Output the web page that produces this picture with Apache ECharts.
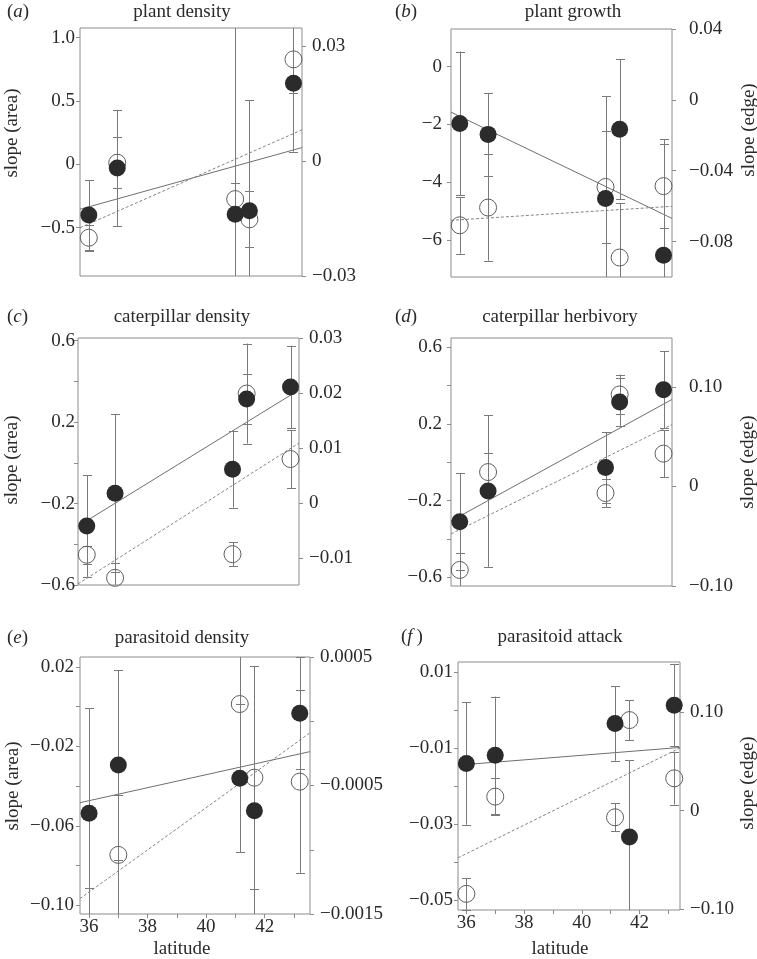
<!DOCTYPE html>
<html><head><meta charset="utf-8">
<script src="https://cdn.jsdelivr.net/npm/echarts@6/dist/echarts.min.js"></script>
<style>html,body{margin:0;padding:0;background:#fff}#c{width:757px;height:959px}</style>
</head><body><div id="c"></div>
<script>
// shared x values
const latitude = [36.0, 37.0, 41.15, 41.65, 43.2];
const xTicks = [36, 37, 38, 39, 40, 41, 42, 43];
const xLabels = ['36', '38', '40', '42'];

// (a) plant density
const aArea = [-0.40, -0.03, -0.395, -0.366, 0.639];
const aAreaErr = [0.276, 0.46, 1.6, 0.874, 0.54];
const aEdge = [-0.020, -0.0004, -0.0099, -0.0152, 0.0266];
const aEdgeErr = [0.0034, 0.0066, 0.0041, 0.0073, 0.0089];
const aAreaFit = [-0.355, 0.132];
const aEdgeFit = [-0.0174, 0.0082];
const aLeftTicks = [1.0, 0.5, 0, -0.5];
const aLeftLabels = ['1.0', '0.5', '0', '\u22120.5'];
const aRightTicks = [0.03, 0, -0.03];
const aRightLabels = ['0.03', '0', '\u22120.03'];

// (b) plant growth
const bArea = [-1.97, -2.35, -4.57, -2.17, -6.54];
const bAreaErr = [2.49, 1.44, 3.55, 2.43, 4.03];
const bEdge = [-0.0708, -0.0608, -0.0492, -0.089, -0.0487];
const bEdgeErr = [0.016, 0.030, 0.0314, 0.0308, 0.0235];
const bAreaFit = [-1.58, -5.26];
const bEdgeFit = [-0.068, -0.0601];
const bLeftTicks = [0, -2, -4, -6];
const bLeftLabels = ['0', '\u22122', '\u22124', '\u22126'];
const bRightTicks = [0.04, 0, -0.04, -0.08];
const bRightLabels = ['0.04', '0', '\u22120.04', '\u22120.08'];

// (c) caterpillar density
const cArea = [-0.31, -0.149, -0.031, 0.313, 0.372];
const cAreaErr = [0.25, 0.389, 0.189, 0.123, 0.203];
const cEdge = [-0.0094, -0.0136, -0.0093, 0.0199, 0.0080];
const cEdgeErr = [0.0016, 0.0027, 0.0022, 0.0091, 0.0053];
const cAreaFit = [-0.311, 0.358];
const cEdgeFit = [-0.0147, 0.0109];
const cLeftTicks = [0.6, 0.4, 0.2, 0, -0.2, -0.4, -0.6];
const cLeftLabels = ['0.6', '0.2', '\u22120.2', '\u22120.6'];
const cRightTicks = [0.03, 0.02, 0.01, 0, -0.01];
const cRightLabels = ['0.03', '0.02', '0.01', '0', '\u22120.01'];

// (d) caterpillar herbivory
const dArea = [-0.31, -0.15, -0.028, 0.313, 0.377];
const dAreaErr = [0.252, 0.395, 0.184, 0.124, 0.2];
const dEdge = [-0.0839, 0.0144, -0.0067, 0.0923, 0.0329];
const dEdgeErr = [0.0168, 0.019, 0.014, 0.02, 0.0235];
const dAreaFit = [-0.306, 0.327];
const dEdgeFit = [-0.0477, 0.0621];
const dLeftTicks = [0.6, 0.4, 0.2, 0, -0.2, -0.4, -0.6];
const dLeftLabels = ['0.6', '0.2', '\u22120.2', '\u22120.6'];
const dRightTicks = [0.1, 0, -0.1];
const dRightLabels = ['0.10', '0', '\u22120.10'];

// (e) parasitoid density
const eArea = [-0.0536, -0.0293, -0.036, -0.0523, -0.0033];
const eAreaErr = [0.0528, 0.0478, 0.0372, 0.0728, 0.0282];
const eEdge = [-0.00175, -0.00104, 0.000134, -0.000439, -0.00047];
const eEdgeErr = [0.00045, 0.000467, 0.00055, 0.000869, 0.00071];
const eAreaFit = [-0.0483, -0.0226];
const eEdgeFit = [-0.00138, -0.00009];
const eLeftTicks = [0.02, 0, -0.02, -0.04, -0.06, -0.08, -0.1];
const eLeftLabels = ['0.02', '\u22120.02', '\u22120.06', '\u22120.10'];
const eRightTicks = [0.0005, 0, -0.0005, -0.001, -0.0015];
const eRightLabels = ['0.0005', '\u22120.0005', '\u22120.0015'];

// (f) parasitoid attack
const fArea = [-0.0141, -0.0119, -0.00356, -0.0334, 0.00125];
const fAreaErr = [0.0161, 0.0154, 0.0098, 0.0202, 0.01086];
const fEdge = [-0.0846, 0.0142, -0.0068, 0.092, 0.0328];
const fEdgeErr = [0.0162, 0.0186, 0.0141, 0.0203, 0.0266];
const fAreaFit = [-0.01452, -0.00987];
const fEdgeFit = [-0.048, 0.0637];
const fLeftTicks = [0.01, 0, -0.01, -0.02, -0.03, -0.04, -0.05];
const fLeftLabels = ['0.01', '\u22120.01', '\u22120.03', '\u22120.05'];
const fRightTicks = [0.1, 0, -0.1];
const fRightLabels = ['0.10', '0', '\u22120.10'];

const FONT = "'Liberation Serif', 'Times New Roman', serif";
const FS = 19;
const TXT = '#2a2a2a';
const AX = '#8c8c8c';
const BAR = '#7a7a7a';

const panels = [
  {letter:'a', title:'plant density', grid:{left:80, top:28, width:222, height:248}, xr:[35.69, 43.5], lr:[-0.882, 1.076], rr:[-0.03, 0.0348],
   area:aArea, areaErr:aAreaErr, edge:aEdge, edgeErr:aEdgeErr, areaFit:aAreaFit, edgeFit:aEdgeFit,
   lT:aLeftTicks, lL:aLeftLabels, rT:aRightTicks, rL:aRightLabels, lm:5, rm:10, xlab:false},
  {letter:'b', title:'plant growth', grid:{left:451, top:29, width:221, height:248}, xr:[35.69, 43.5], lr:[-7.29, 1.30], rr:[-0.10, 0.04],
   area:bArea, areaErr:bAreaErr, edge:bEdge, edgeErr:bEdgeErr, areaFit:bAreaFit, edgeFit:bEdgeFit,
   lT:bLeftTicks, lL:bLeftLabels, rT:bRightTicks, rL:bRightLabels, lm:9, rm:17, xlab:false},
  {letter:'c', title:'caterpillar density', grid:{left:78, top:338, width:221, height:247}, xr:[35.69, 43.5], lr:[-0.6, 0.613], rr:[-0.0149, 0.03],
   area:cArea, areaErr:cAreaErr, edge:cEdge, edgeErr:cEdgeErr, areaFit:cAreaFit, edgeFit:cEdgeFit,
   lT:cLeftTicks, lL:cLeftLabels, rT:cRightTicks, rL:cRightLabels, lm:3, rm:10, xlab:false},
  {letter:'d', title:'caterpillar herbivory', grid:{left:451, top:338, width:221, height:248}, xr:[35.69, 43.5], lr:[-0.645, 0.647], rr:[-0.10, 0.149],
   area:dArea, areaErr:dAreaErr, edge:dEdge, edgeErr:dEdgeErr, areaFit:dAreaFit, edgeFit:dEdgeFit,
   lT:dLeftTicks, lL:dLeftLabels, rT:dRightTicks, rL:dRightLabels, lm:9, rm:17, xlab:false},
  {letter:'e', title:'parasitoid density', grid:{left:80, top:657, width:230, height:257}, xr:[35.69, 43.55], lr:[-0.1043, 0.025], rr:[-0.0015, 0.0005],
   area:eArea, areaErr:eAreaErr, edge:eEdge, edgeErr:eEdgeErr, areaFit:eAreaFit, edgeFit:eEdgeFit,
   lT:eLeftTicks, lL:eLeftLabels, rT:eRightTicks, rL:eRightLabels, lm:6, rm:10, xlab:true},
  {letter:'f', title:'parasitoid attack', grid:{left:458, top:662, width:222, height:248}, xr:[35.71, 43.40], lr:[-0.0526, 0.0126], rr:[-0.101, 0.151],
   area:fArea, areaErr:fAreaErr, edge:fEdge, edgeErr:fEdgeErr, areaFit:fAreaFit, edgeFit:fEdgeFit,
   lT:fLeftTicks, lL:fLeftLabels, rT:fRightTicks, rL:fRightLabels, lm:5, rm:10, xlab:true}
];

function num(s) { return parseFloat(s.replace('\u2212', '-')); }
function labelFormatter(labels) {
  const vals = labels.map(num);
  return function (v) {
    let best = -1, bd = Infinity;
    vals.forEach((lv, i) => { const d = Math.abs(lv - v); if (d < bd) { bd = d; best = i; } });
    return best >= 0 && bd < 1e-9 + Math.abs(v) * 1e-6 + 1e-12 ? labels[best] : '';
  };
}

function errRender(params, api) {
  const x = api.value(0), y = api.value(1), e = api.value(2);
  const p = api.coord([x, y]);
  const top = api.coord([x, y + e])[1];
  const bot = api.coord([x, y - e])[1];
  const cs = params.coordSys;
  const y0 = cs.y, y1 = cs.y + cs.height;
  const px = Math.round(p[0]) + 0.5;
  const st = {stroke: BAR, lineWidth: 1, fill: null};
  const ch = [];
  const t = Math.max(top, y0), b = Math.min(bot, y1);
  if (t < b) ch.push({type: 'line', shape: {x1: px, y1: t, x2: px, y2: b}, style: st});
  const hw = 4.5;
  [top, bot].forEach(yy => {
    if (yy >= y0 && yy <= y1) {
      const yr = Math.round(yy) + 0.5;
      ch.push({type: 'line', shape: {x1: px - hw, y1: yr, x2: px + hw, y2: yr}, style: st});
    }
  });
  return {type: 'group', children: ch};
}

const grids = [], xAxes = [], yAxes = [], series = [], graphics = [];
const labelStyle = {fontFamily: FONT, fontSize: FS, color: TXT};

panels.forEach((P, i) => {
  grids.push(Object.assign({show: true, borderColor: AX, borderWidth: 1, backgroundColor: 'transparent'}, P.grid));
  xAxes.push({
    gridIndex: i, type: 'value', min: P.xr[0], max: P.xr[1], position: 'bottom',
    axisLine: {show: false, onZero: false}, splitLine: {show: false},
    axisTick: {show: P.xlab, length: 4, lineStyle: {color: AX}, customValues: xTicks},
    axisLabel: Object.assign({show: P.xlab, margin: 4, customValues: xLabels.map(num), formatter: labelFormatter(xLabels)}, labelStyle)
  });
  yAxes.push({
    gridIndex: i, type: 'value', position: 'left', min: P.lr[0], max: P.lr[1],
    axisLine: {show: false, onZero: false}, splitLine: {show: false},
    axisTick: {show: true, length: 4, lineStyle: {color: AX}, customValues: P.lT},
    axisLabel: Object.assign({margin: P.lm, customValues: P.lL.map(num), formatter: labelFormatter(P.lL), showMinLabel: true, showMaxLabel: true}, labelStyle)
  });
  yAxes.push({
    gridIndex: i, type: 'value', position: 'right', min: P.rr[0], max: P.rr[1], alignTicks: false,
    axisLine: {show: false, onZero: false}, splitLine: {show: false},
    axisTick: {show: true, length: 4, lineStyle: {color: AX}, customValues: P.rT},
    axisLabel: Object.assign({margin: P.rm, customValues: P.rL.map(num), formatter: labelFormatter(P.rL), showMinLabel: true, showMaxLabel: true}, labelStyle)
  });
  const L = 2 * i, R = 2 * i + 1;
  series.push({type: 'line', xAxisIndex: i, yAxisIndex: L, silent: true, showSymbol: false, z: 2, clip: true,
    data: [[P.xr[0], P.areaFit[0]], [P.xr[1], P.areaFit[1]]], lineStyle: {color: '#6f6f6f', width: 1}});
  series.push({type: 'line', xAxisIndex: i, yAxisIndex: R, silent: true, showSymbol: false, z: 2, clip: true,
    data: [[P.xr[0], P.edgeFit[0]], [P.xr[1], P.edgeFit[1]]], lineStyle: {color: '#858585', width: 1, type: [3, 2]}});
  series.push({type: 'custom', xAxisIndex: i, yAxisIndex: L, silent: true, z: 3, renderItem: errRender,
    encode: {x: 0, y: 1}, data: latitude.map((x, k) => [x, P.area[k], P.areaErr[k]])});
  series.push({type: 'custom', xAxisIndex: i, yAxisIndex: R, silent: true, z: 3, renderItem: errRender,
    encode: {x: 0, y: 1}, data: latitude.map((x, k) => [x, P.edge[k], P.edgeErr[k]])});
  series.push({type: 'scatter', xAxisIndex: i, yAxisIndex: R, silent: true, z: 4, clip: true, symbol: 'circle', symbolSize: 17,
    itemStyle: {color: 'rgba(255,255,255,0)', borderColor: '#5e5e5e', borderWidth: 1, opacity: 1},
    data: latitude.map((x, k) => [x, P.edge[k]])});
  series.push({type: 'scatter', xAxisIndex: i, yAxisIndex: L, silent: true, z: 5, clip: true, symbol: 'circle', symbolSize: 17,
    itemStyle: {color: '#2b2b2b', opacity: 1},
    data: latitude.map((x, k) => [x, P.area[k]])});
});

// text elements
const titlePos = [[182, 12], [573, 12], [182, 317], [560, 317], [182, 638], [560, 637]];
const letterPos = [[7, 12], [395, 12], [7, 317], [395, 317], [7, 638], [401, 637]];
panels.forEach((P, i) => {
  graphics.push({type: 'text', x: titlePos[i][0], y: titlePos[i][1], silent: true,
    style: {text: P.title, font: FS + 'px ' + FONT, fill: TXT, align: 'center', verticalAlign: 'middle'}});
  graphics.push({type: 'text', x: letterPos[i][0], y: letterPos[i][1], silent: true,
    style: {text: '{p|(}{i|' + P.letter + '}{p|' + (P.letter === 'f' ? '\u2009)' : ')') + '}', align: 'left', verticalAlign: 'middle',
      rich: {p: {fontFamily: FONT, fontSize: FS, fill: TXT, color: TXT}, i: {fontFamily: FONT, fontSize: FS, fontStyle: 'italic', fill: TXT, color: TXT}}}});
});
const areaNamePos = [[12, 133], [12, 460], [13, 786]];
areaNamePos.forEach(p => graphics.push({type: 'text', x: p[0], y: p[1], rotation: Math.PI / 2, silent: true,
  style: {text: 'slope (area)', font: FS + 'px ' + FONT, fill: TXT, align: 'center', verticalAlign: 'middle'}}));
const edgeNamePos = [[749, 130], [748, 462], [748, 783]];
edgeNamePos.forEach(p => graphics.push({type: 'text', x: p[0], y: p[1], rotation: Math.PI / 2, silent: true,
  style: {text: 'slope (edge)', font: FS + 'px ' + FONT, fill: TXT, align: 'center', verticalAlign: 'middle'}}));
[[182, 949], [560, 949]].forEach(p => graphics.push({type: 'text', x: p[0], y: p[1], silent: true,
  style: {text: 'latitude', font: FS + 'px ' + FONT, fill: TXT, align: 'center', verticalAlign: 'middle'}}));

const chart = echarts.init(document.getElementById('c'), null, {renderer: 'canvas', width: 757, height: 959});
chart.setOption({
  animation: false,
  backgroundColor: '#fff',
  grid: grids, xAxis: xAxes, yAxis: yAxes, series: series, graphic: graphics
});
</script></body></html>
